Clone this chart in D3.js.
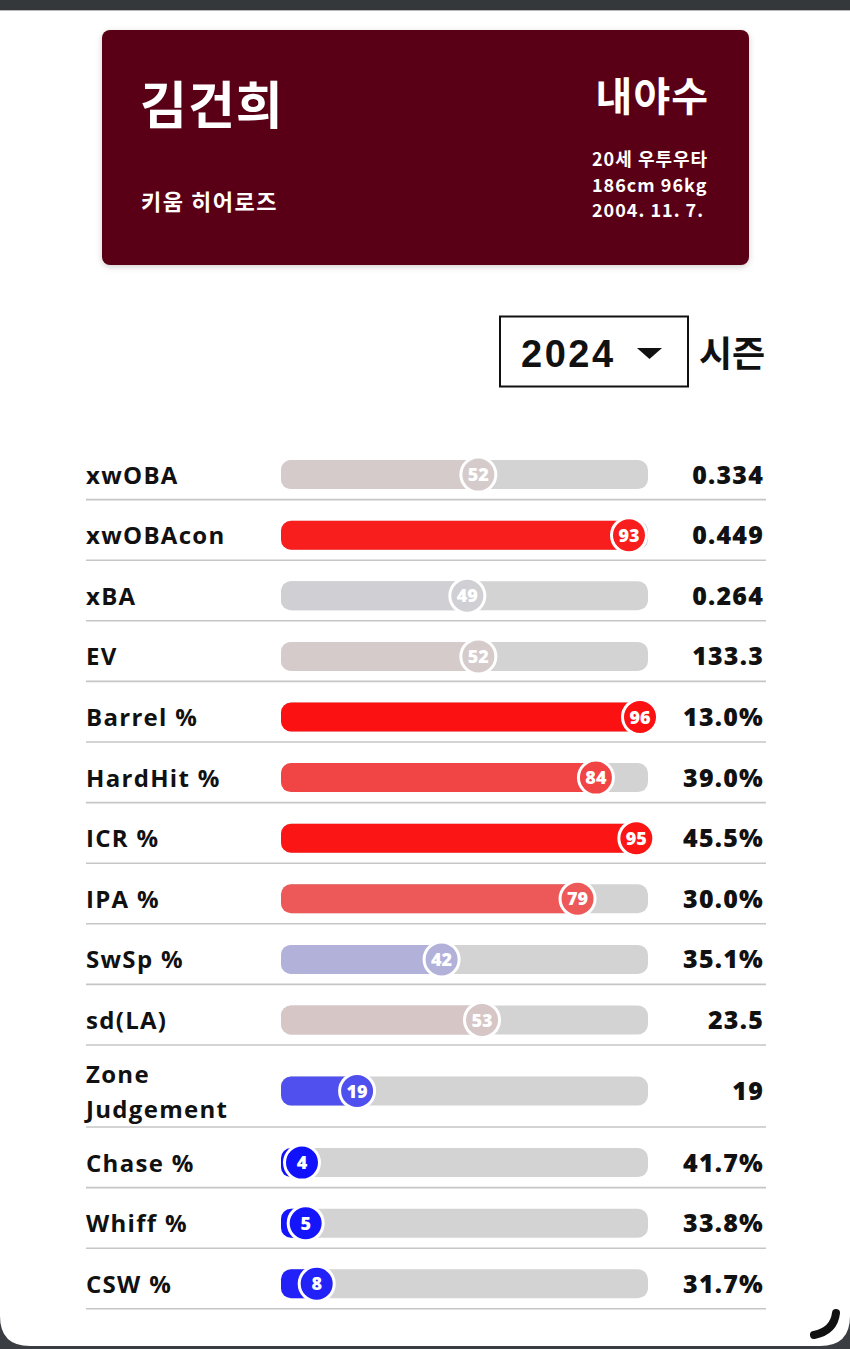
<!DOCTYPE html>
<html><head><meta charset="utf-8">
<script src="https://cdn.jsdelivr.net/npm/d3@7"></script>
<style>
html,body{margin:0;padding:0;background:#3a3d41;}
svg{display:block;}
</style></head>
<body>
<svg id="chart" width="850" height="1349"></svg>
<script>
// ---- data ----
const playerName = "김건희";
const teamName = "키움 히어로즈";
const position = "내야수";
const infoLines = ["20세 우투우타", "186cm 96kg", "2004. 11. 7."];
const season = "2024";
const seasonLabel = "시즌";
const metrics = ["xwOBA","xwOBAcon","xBA","EV","Barrel %","HardHit %","ICR %","IPA %","SwSp %","sd(LA)","Zone Judgement","Chase %","Whiff %","CSW %"];
const percentiles = [52,93,49,52,96,84,95,79,42,53,19,4,5,8];
const statValues = ["0.334","0.449","0.264","133.3","13.0%","39.0%","45.5%","30.0%","35.1%","23.5","19","41.7%","33.8%","31.7%"];

// ---- layout ----
const W = 850, H = 1349;
const svg = d3.select("#chart");
const KR = "'Noto Sans CJK KR','Noto Sans',sans-serif";
const LAT = "'Open Sans','Noto Sans',sans-serif";

// page background
svg.append("rect").attr("width",W).attr("height",H).attr("fill","#3a3d41");
const CR = 30, pageTop = 10, pageBot = 1346;
svg.append("path")
  .attr("d",`M0,${pageTop} H${W} V${pageBot-CR} Q${W},${pageBot} ${W-CR},${pageBot} H${CR} Q0,${pageBot} 0,${pageBot-CR} Z`)
  .attr("fill","#ffffff");
svg.append("rect").attr("x",0).attr("y",0).attr("width",W).attr("height",10).attr("fill","#35383b");
svg.append("rect").attr("x",0).attr("y",10).attr("width",W).attr("height",1).attr("fill","#b8b9ba");

// header card
const defs = svg.append("defs");
const f = defs.append("filter").attr("id","sh").attr("x","-10%").attr("y","-10%").attr("width","120%").attr("height","130%");
f.append("feDropShadow").attr("dx",0).attr("dy",2).attr("stdDeviation",3).attr("flood-color","#000").attr("flood-opacity",0.18);
svg.append("rect").attr("x",102).attr("y",30).attr("width",647).attr("height",235).attr("rx",8)
  .attr("fill","#5a0615").attr("filter","url(#sh)");
svg.append("text").attr("x",140).attr("y",124).text(playerName)
  .attr("font-family",KR).attr("font-weight",700).attr("font-size",51).attr("letter-spacing",1).attr("fill","#fff");
svg.append("text").attr("x",141).attr("y",210).text(teamName)
  .attr("font-family",KR).attr("font-weight",700).attr("font-size",22).attr("letter-spacing",1.5).attr("fill","#fff");
svg.append("text").attr("x",709).attr("y",111).attr("text-anchor","end").text(position)
  .attr("font-family",KR).attr("font-weight",700).attr("font-size",40).attr("letter-spacing",1).attr("fill","#fff");
svg.append("g").selectAll("text").data(infoLines).join("text")
  .attr("x",592).attr("y",(d,i)=>166+i*25.5).text(d=>d)
  .attr("font-family",KR).attr("font-weight",700).attr("font-size",18).attr("letter-spacing",1).attr("fill","#fff");

// season selector
svg.append("rect").attr("x",500).attr("y",316.5).attr("width",188).attr("height",70)
  .attr("fill","#fff").attr("stroke","#111").attr("stroke-width",2);
svg.append("text").attr("x",521).attr("y",367).text(season)
  .attr("font-family","'Liberation Sans',Arial,sans-serif").attr("font-weight",700)
  .attr("font-size",38).attr("letter-spacing",2.5).attr("fill","#111");
svg.append("path").attr("d","M637,348 L662,348 L649.5,359 Z").attr("fill","#111");
svg.append("text").attr("x",699).attr("y",367).text(seasonLabel)
  .attr("font-family",KR).attr("font-weight",700).attr("font-size",36).attr("fill","#111");

// rows
const rowH = metrics.map(m => m === "Zone Judgement" ? 82 : 60.6);
const rowStart = 439;
const rowBottom = Array.from(d3.cumsum(rowH), v => rowStart + v);
const rows = metrics.map((m,i)=>({label:m, p:percentiles[i], v:statValues[i], bottom:rowBottom[i],
  cy: rowBottom[i] - (rowH[i] > 70 ? 36 : 25)}));

const trackX0 = 281, trackX1 = 648;
const x = d3.scaleLinear().domain([0,100]).range([287.3,654.7]);
const color = d3.scaleLinear().domain([0,50,100]).range(["#0000ff","#d3d3d3","#ff0000"]).interpolate(d3.interpolateRgb);

const g = svg.append("g");
const row = g.selectAll("g.row").data(rows).join("g").attr("class","row");

row.append("line").attr("x1",86).attr("x2",766)
  .attr("y1",d=>d.bottom).attr("y2",d=>d.bottom)
  .attr("stroke","#c6c6c6").attr("stroke-width",1.6);

// labels
row.each(function(d){
  const t = d3.select(this).append("text")
    .attr("font-family",LAT).attr("font-weight",700).attr("font-size",24)
    .attr("letter-spacing",1.3).attr("fill","#111");
  const words = d.label === "Zone Judgement" ? ["Zone","Judgement"] : [d.label];
  if (words.length === 1) {
    t.attr("x",86).attr("y",d.cy+9).text(d.label);
  } else {
    words.forEach((w,k)=> t.append("tspan").attr("x",86).attr("y",d.cy-8+k*35).text(w));
  }
});

// track
row.append("rect").attr("x",trackX0).attr("y",d=>d.cy-14.5).attr("width",trackX1-trackX0).attr("height",29)
  .attr("rx",10).attr("fill","#d3d3d3");
// fill
row.append("rect").attr("x",trackX0).attr("y",d=>d.cy-14.5)
  .attr("width",d=>Math.min(x(d.p),trackX1)-trackX0).attr("height",29)
  .attr("rx",10).attr("fill",d=>color(d.p));
// circle
row.append("circle").attr("cx",d=>x(d.p)).attr("cy",d=>d.cy).attr("r",17.5)
  .attr("fill",d=>color(d.p)).attr("stroke","#fff").attr("stroke-width",3);
row.append("text").attr("x",d=>x(d.p)).attr("y",d=>d.cy+6.5).attr("text-anchor","middle")
  .attr("font-family",LAT).attr("font-weight",800).attr("font-size",18).attr("fill","#fff")
  .text(d=>d.p);

// values
row.append("text").attr("x",764).attr("y",d=>d.cy+9).attr("text-anchor","end")
  .attr("font-family",LAT).attr("font-weight",800).attr("font-size",25).attr("letter-spacing",1.2)
  .attr("fill","#111").text(d=>d.v);

// corner handle
svg.append("path").attr("d","M836,1313 Q834,1331 814,1335")
  .attr("fill","none").attr("stroke","#111").attr("stroke-width",8).attr("stroke-linecap","round");
</script>
</body></html>
